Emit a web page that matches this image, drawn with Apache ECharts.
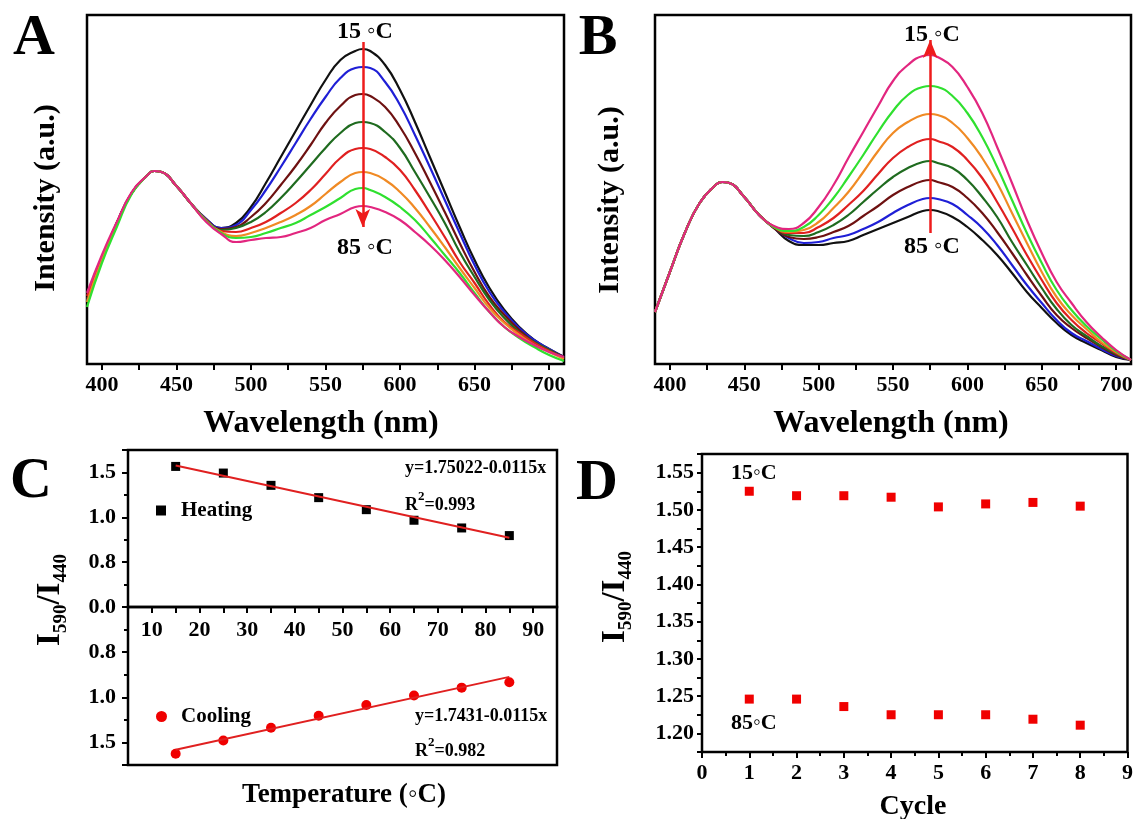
<!DOCTYPE html>
<html>
<head>
<meta charset="UTF-8">
<title>Temperature dependent emission</title>
<script src="https://cdn.jsdelivr.net/npm/echarts@6/dist/echarts.min.js"></script>
<style>
  html, body { margin:0; padding:0; background:#fff; }
  #main { width:1136px; height:819px; }
</style>
</head>
<body>
<div id="main"></div>
<script type="text/javascript">
var FF = '"Liberation Serif", "Times New Roman", Times, serif';

// wavelength grid (nm) used by every spectrum
var wavelengths = [390,400,410,420,430,435,440,450,460,470,480,490,500,510,520,530,540,550,560,570,575,580,590,600,610,620,630,640,650,660,670,680,690,700,710];

// panel A (heating)
var a_black   = [64,105,141,171,188,193,192,178,160,145,136,141,157,181,207,233,259,284,304,313,315,313,299,274,242,207,172,137,104,76,54,37,24,15,7];
var a_blue    = [64,105,141,171,188,193,192,178,160,145,136,139,154,174,197,221,245,267,286,296,297,296,282,259,229,197,164,131,99,72,52,36,24,15,7];
var a_brown   = [65,105,141,171,188,193,192,178,160,144,135,137,147,161,179,198,219,241,258,269,270,268,257,237,211,182,152,121,92,67,49,34,22,14,7];
var a_dkgreen = [63,105,141,171,188,193,192,178,160,144,134,136,142,152,166,182,199,216,231,241,242,241,232,216,192,167,141,112,87,64,46,32,22,14,6];
var a_red     = [68,106,141,171,188,193,192,178,160,144,133,132,136,142,151,161,174,190,206,215,216,215,207,194,174,151,127,102,81,59,42,31,21,13,6];
var a_orange  = [62,104,140,171,188,193,192,178,160,143,132,128,131,136,142,149,158,170,182,191,192,191,184,172,156,137,117,96,76,56,41,29,19,12,5];
var a_green   = [57,101,137,170,188,193,192,178,160,143,131,126,127,131,136,141,149,157,166,175,176,174,167,157,144,127,109,91,71,52,37,26,17,9,3];
var a_magenta = [71,109,142,172,188,193,192,178,160,142,130,122,124,126,127,131,136,144,150,157,158,157,152,144,132,119,104,87,69,52,37,27,19,12,7];

// panel B (cooling)
var b_black   = [52,92,131,161,178,182,181,167,149,136,123,119,119,121,123,129,135,141,147,153,154,153,147,137,124,109,91,72,56,41,29,21,14,7,4];
var b_blue    = [52,92,131,161,178,182,181,167,149,136,126,121,122,126,129,135,142,151,159,165,166,165,160,149,136,119,99,79,61,44,31,23,15,8,4];
var b_brown   = [52,92,131,161,178,182,181,167,149,136,127,125,127,132,138,148,158,169,177,183,184,182,177,166,151,132,111,89,68,49,36,26,17,9,4];
var b_dkgreen = [52,92,131,161,178,182,181,167,149,137,129,128,132,139,149,162,175,187,196,202,203,201,196,184,167,147,122,99,76,55,39,28,18,10,4];
var b_red     = [52,92,131,161,178,182,181,167,149,137,131,131,137,146,159,173,190,206,217,224,225,223,217,204,186,162,136,109,84,61,44,31,21,11,4];
var b_orange  = [52,92,131,161,178,182,181,167,149,137,132,134,142,156,172,192,213,231,242,249,250,249,241,226,206,181,151,121,92,67,49,35,22,12,4];
var b_green   = [52,92,131,161,178,182,181,167,149,137,133,137,149,166,187,209,232,253,269,277,278,277,268,251,227,197,164,131,101,74,54,38,25,13,4];
var b_magenta = [52,92,131,161,178,182,181,167,149,138,135,141,157,179,206,232,258,283,299,308,309,307,297,277,251,217,181,144,111,82,61,42,27,14,4];

var curveColors = ['#111111','#1f1fd6','#6e1111','#1f6b1f','#e02020','#f08a24','#2fe02f','#e2267f'];
var spectraA = [a_black,a_blue,a_brown,a_dkgreen,a_red,a_orange,a_green,a_magenta];
var spectraB = [b_black,b_blue,b_brown,b_dkgreen,b_red,b_orange,b_green,b_magenta];
var wlTicks = [400,425,450,475,500,525,550,575,600,625,650,675,700];
var wlLabels = [400,450,500,550,600,650,700];

// panel C
var temps = [15,25,35,45,55,65,75,85];
var heating = [1.567,1.493,1.356,1.219,1.085,0.967,0.881,0.796];
var cooling = [1.626,1.478,1.337,1.204,1.085,0.981,0.893,0.833];
var heatFit = [[15,1.578],[85,0.772]];
var coolFit = [[15,1.581],[85,0.774]];
var cYTickValues = [0, 0.5, 1.0, 1.5];
var cYTickLabels = ['0.0','0.8','1.0','1.5'];
var cXTickLabels = [10,20,30,40,50,60,70,80,90];

// panel D
var cycles = [1,2,3,4,5,6,7,8];
var d15 = [1.525,1.519,1.519,1.517,1.504,1.508,1.510,1.505];
var d85 = [1.246,1.246,1.236,1.225,1.225,1.225,1.219,1.211];
var dYTickValues = [1.20,1.25,1.30,1.35,1.40,1.45,1.50,1.55];
var dYTickLabels = ['1.20','1.25','1.30','1.35','1.40','1.45','1.50','1.55'];

function pick(values, labels, v) {
  for (var i = 0; i < values.length; i++) {
    if (Math.abs(values[i] - v) < 1e-6) return labels[i];
  }
  return '';
}

var labelStyle = { color:'#000', fontFamily:FF, fontWeight:'bold', fontSize:22 };
var tickStyle = { color:'#000', width:2 };
function box(left, top, width, height) {
  return { left:left, top:top, width:width, height:height, show:true,
           borderColor:'#000', borderWidth:2.5, backgroundColor:'transparent' };
}

var series = [];
function addSpectra(list, gi, arrow) {
  list.forEach(function (vals, k) {
    var s = {
      type:'line', xAxisIndex:gi, yAxisIndex:gi, silent:true, smooth:0.5,
      showSymbol:false, data: wavelengths.map(function (w, i) { return [w, vals[i]]; }),
      lineStyle:{ color:curveColors[k], width:2.2 }, itemStyle:{ color:curveColors[k] }
    };
    if (k === list.length - 1) {
      s.markLine = {
        silent:true, symbol:['none','arrow'], symbolSize:[11,18],
        lineStyle:{ color:'#ee1c1c', width:2.5, type:'solid' }, label:{ show:false },
        data:[[{ coord:[575, arrow[0]] }, { coord:[575, arrow[1]] }]]
      };
    }
    series.push(s);
  });
}
addSpectra(spectraA, 0, [322, 137]);
addSpectra(spectraB, 1, [131, 324]);

series.push({ type:'line', xAxisIndex:2, yAxisIndex:2, data:heatFit, showSymbol:false, silent:true,
  lineStyle:{ color:'#e02020', width:2 } });
series.push({ name:'Heating', type:'scatter', xAxisIndex:2, yAxisIndex:2, symbol:'rect', symbolSize:9,
  itemStyle:{ color:'#000', opacity:1 }, data: temps.map(function (t, i) { return [t, heating[i]]; }) });
series.push({ type:'line', xAxisIndex:3, yAxisIndex:3, data:coolFit, showSymbol:false, silent:true,
  lineStyle:{ color:'#e02020', width:2 } });
series.push({ name:'Cooling', type:'scatter', xAxisIndex:3, yAxisIndex:3, symbol:'circle', symbolSize:10,
  itemStyle:{ color:'#f00000', opacity:1 }, data: temps.map(function (t, i) { return [t, cooling[i]]; }) });
series.push({ type:'scatter', xAxisIndex:4, yAxisIndex:4, symbol:'rect', symbolSize:9,
  itemStyle:{ color:'#f00000', opacity:1 }, data: cycles.map(function (c, i) { return [c, d15[i]]; }) });
series.push({ type:'scatter', xAxisIndex:4, yAxisIndex:4, symbol:'rect', symbolSize:9,
  itemStyle:{ color:'#f00000', opacity:1 }, data: cycles.map(function (c, i) { return [c, d85[i]]; }) });

function wlAxis(gi) {
  return { gridIndex:gi, type:'value', min:390, max:710,
    axisLine:{ show:false }, splitLine:{ show:false },
    axisTick:{ show:true, customValues:wlTicks, length:6, lineStyle:tickStyle },
    axisLabel:Object.assign({ customValues:wlLabels, margin:10 }, labelStyle) };
}
function cYAxis(gi, inverse) {
  return { gridIndex:gi, type:'value', min:0, max:1.75, interval:0.5, inverse:inverse,
    axisLine:{ show:false }, splitLine:{ show:false },
    axisTick:{ show:true, length:6, lineStyle:tickStyle },
    minorTick:{ show:true, splitNumber:2, length:4, lineStyle:tickStyle },
    axisLabel:Object.assign({ margin:12, formatter:function (v) {
      if (inverse && v === 0) return '';
      return pick(cYTickValues, cYTickLabels, v);
    } }, labelStyle) };
}

var titleText = function (x, y, text, size, rot) {
  return { type:'text', x:x, y:y, rotation:rot || 0, silent:true,
    style:{ text:text, align:'center', verticalAlign:'middle', fill:'#000',
            fontFamily:FF, fontWeight:'bold', fontSize:size } };
};
var leftText = function (x, y, text, size) {
  return { type:'text', x:x, y:y, silent:true,
    style:{ text:text, align:'left', verticalAlign:'middle', fill:'#000',
            fontFamily:FF, fontWeight:'bold', fontSize:size } };
};

// pieces of text laid out one after another, with a vertical shift each
var measureCtx = document.createElement('canvas').getContext('2d');
function pieceWidth(str, size) {
  measureCtx.font = 'bold ' + size + 'px ' + FF;
  return measureCtx.measureText(str).width;
}
function pieces(x, y, parts, rot, centered) {
  var total = 0;
  parts.forEach(function (p) { total += pieceWidth(p[0], p[1]); });
  var pos = centered ? -total / 2 : 0;
  var children = parts.map(function (p) {
    var el = { type:'text', x:pos, y:p[2], silent:true,
      style:{ text:p[0], align:'left', verticalAlign:'middle', fill:'#000',
              fontFamily:FF, fontWeight:'bold', fontSize:p[1] } };
    pos += pieceWidth(p[0], p[1]);
    return el;
  });
  return { type:'group', x:x, y:y, rotation:rot || 0, children:children };
}
var ratioParts = [['I',33,0],['590',19,11],['/I',33,0],['440',19,11]];

var option = {
  animation:false,
  backgroundColor:'#fff',
  grid:[ box(87,15,477,349), box(655,15,476,349), box(128,450,429,157), box(128,607,429,158), box(702,454,428,298) ],
  xAxis:[
    wlAxis(0), wlAxis(1),
    { gridIndex:2, type:'value', min:5, max:95, show:false },
    { gridIndex:3, type:'value', min:5, max:95, interval:5, position:'top',
      axisLine:{ show:false }, splitLine:{ show:false },
      axisTick:{ show:true, inside:true, length:6, lineStyle:tickStyle },
      axisLabel:Object.assign({ inside:true, margin:12, formatter:function (v) {
        return cXTickLabels.indexOf(v) >= 0 ? String(v) : '';
      } }, labelStyle) },
    { gridIndex:4, type:'value', min:0, max:9, interval:1,
      axisLine:{ show:false }, splitLine:{ show:false },
      axisTick:{ show:true, length:6, lineStyle:tickStyle },
      minorTick:{ show:true, splitNumber:2, length:4, lineStyle:tickStyle },
      axisLabel:Object.assign({ margin:10 }, labelStyle) }
  ],
  yAxis:[
    { gridIndex:0, type:'value', min:0, max:349, show:false },
    { gridIndex:1, type:'value', min:0, max:349, show:false },
    cYAxis(2, false), cYAxis(3, true),
    { gridIndex:4, type:'value', min:1.175, max:1.575, interval:0.025,
      axisLine:{ show:false }, splitLine:{ show:false },
      axisTick:{ show:true, length:5, lineStyle:tickStyle },
      axisLabel:Object.assign({ margin:8, formatter:function (v) {
        return pick(dYTickValues, dYTickLabels, v);
      } }, labelStyle) }
  ],
  legend:[
    { data:['Heating'], left:151, top:495, icon:'rect', itemWidth:10, itemHeight:10, selectedMode:false,
      textStyle:{ color:'#000', fontFamily:FF, fontWeight:'bold', fontSize:21, padding:[0,0,0,10] } },
    { data:['Cooling'], left:151, top:701, icon:'circle', itemWidth:11, itemHeight:11, selectedMode:false,
      textStyle:{ color:'#000', fontFamily:FF, fontWeight:'bold', fontSize:21, padding:[0,0,0,9] } }
  ],
  graphic:[
    titleText(34, 39, 'A', 58), titleText(598, 39, 'B', 58),
    titleText(31, 482, 'C', 58), titleText(597, 484, 'D', 58),
    titleText(46, 198, 'Intensity (a.u.)', 30, Math.PI / 2),
    titleText(610, 200, 'Intensity (a.u.)', 30, Math.PI / 2),
    titleText(321, 424, 'Wavelength (nm)', 32),
    titleText(891, 424, 'Wavelength (nm)', 32),
    titleText(365, 32, '15 \u25E6C', 24), titleText(365, 248, '85 \u25E6C', 24),
    titleText(932, 35, '15 \u25E6C', 24), titleText(932, 247, '85 \u25E6C', 24),
    leftText(405, 468, 'y=1.75022-0.0115x', 18),
    pieces(405, 505, [['R',18,0],['2',13,-8],['=0.993',18,0]], 0, false),
    leftText(415, 716, 'y=1.7431-0.0115x', 18),
    pieces(415, 751, [['R',18,0],['2',13,-8],['=0.982',18,0]], 0, false),
    titleText(344, 795, 'Temperature (\u25E6C)', 27),
    pieces(50, 600, ratioParts, Math.PI / 2, true),
    pieces(615, 597, ratioParts, Math.PI / 2, true),
    titleText(913, 807, 'Cycle', 28),
    leftText(731, 473, '15\u25E6C', 22), leftText(731, 723, '85\u25E6C', 22)
  ],
  series:series
};

var chart = echarts.init(document.getElementById('main'), null, { renderer:'canvas' });
chart.setOption(option);
</script>
</body>
</html>
